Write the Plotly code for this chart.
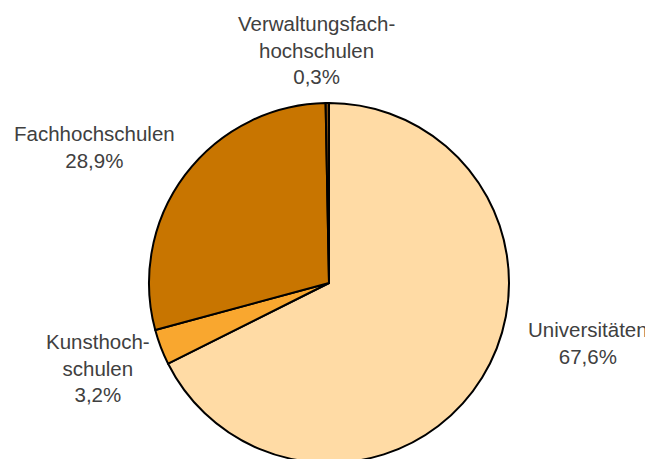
import plotly.graph_objects as go

# Anteile nach Hochschulart (%)
labels = ["Universitäten", "Kunsthochschulen", "Fachhochschulen", "Verwaltungsfachhochschulen"]
display_labels = ["Universitäten", "Kunsthoch-<br>schulen", "Fachhochschulen", "Verwaltungsfach-<br>hochschulen"]
values = [67.6, 3.2, 28.9, 0.3]
colors = ["#FFDBA5", "#F9A72F", "#C87500", "#7A4A10"]

W, H = 653, 459
OFF = 8  # page body margin pushes the figure 8px right/down

# label centres in window pixels (x, y from top)
label_pos = [(588, 343), (98, 368), (94, 147), (316, 50)]


def px_x(v):
    return (v - OFF) / W


def px_y(v):
    return 1 - (v - OFF) / H


fig = go.Figure()

fig.add_trace(go.Pie(
    labels=labels,
    values=values,
    sort=False,
    direction="clockwise",
    rotation=0,
    textinfo="none",
    marker=dict(colors=colors, line=dict(color="black", width=2)),
    domain=dict(x=[px_x(149), px_x(509)], y=[px_y(463), px_y(103)]),
    showlegend=False,
))

for lab, val, (px, py) in zip(display_labels, values, label_pos):
    fig.add_annotation(
        text=f"{lab}<br>{str(val).replace('.', ',')}%",
        x=px_x(px), y=px_y(py),
        xref="paper", yref="paper",
        xanchor="center", yanchor="middle",
        align="center", showarrow=False,
        font=dict(size=20.5, color="#404040", family="Liberation Sans, Arial, sans-serif"),
    )

fig.update_layout(
    width=W, height=H,
    margin=dict(l=0, r=0, t=0, b=0),
    paper_bgcolor="white",
    plot_bgcolor="white",
)

fig.write_html("out.html")
